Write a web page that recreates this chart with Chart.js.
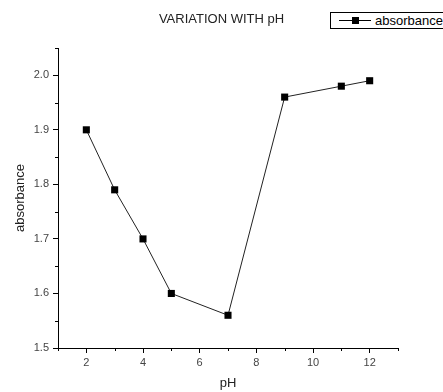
<!DOCTYPE html>
<html>
<head>
<meta charset="utf-8">
<script src="https://cdn.jsdelivr.net/npm/chart.js@4/dist/chart.umd.min.js"></script>
<style>
  body { margin: 0; background: #fff; }
  #wrap { position: relative; width: 443px; height: 392px; overflow: hidden; }
  #legend {
    position: absolute; left: 330px; top: 12px; width: 130px; height: 17px;
    border: 1px solid #000; background: #fff; box-sizing: border-box;
    font: 13px "Liberation Sans", Arial, sans-serif; color: #000;
    line-height: 15px; white-space: nowrap;
  }
  #legend canvas { vertical-align: middle; margin: -2px 4px 0 8px; }
</style>
</head>
<body>
<div id="wrap">
  <canvas id="myChart" width="443" height="392"></canvas>
  <div id="legend"><canvas id="legendSample" width="32" height="9"></canvas>absorbance</div>
</div>
<script>
// data
var phValues = [2, 3, 4, 5, 7, 9, 11, 12];
var absorbance = [1.90, 1.79, 1.70, 1.60, 1.56, 1.96, 1.98, 1.99];
var xTicks = [2, 4, 6, 8, 10, 12];
var yTicks = [1.5, 1.6, 1.7, 1.8, 1.9, 2.0];
var xMinor = [1, 3, 5, 7, 9, 11, 13];
var yMinor = [1.55, 1.65, 1.75, 1.85, 1.95, 2.05];

var points = [];
for (var i = 0; i < phValues.length; i++) {
  points.push({x: phValues[i], y: absorbance[i]});
}

// short minor ticks, drawn outside the axes
var minorTicks = {
  id: 'minorTicks',
  afterDraw: function(chart) {
    var ctx = chart.ctx;
    var xs = chart.scales.x, ys = chart.scales.y;
    ctx.save();
    ctx.strokeStyle = '#000';
    ctx.lineWidth = 1;
    ctx.beginPath();
    xMinor.forEach(function(v) {
      var px = Math.round(xs.getPixelForValue(v)) + 0.5;
      ctx.moveTo(px, xs.top);
      ctx.lineTo(px, xs.top + 3);
    });
    yMinor.forEach(function(v) {
      var py = Math.round(ys.getPixelForValue(v)) + 0.5;
      ctx.moveTo(ys.right, py);
      ctx.lineTo(ys.right - 3, py);
    });
    ctx.stroke();
    ctx.restore();
  }
};

var font = "'Liberation Sans', Arial, sans-serif";
var ctx = document.getElementById('myChart').getContext('2d');
var myChart = new Chart(ctx, {
  type: 'scatter',
  data: {
    datasets: [{
      label: 'absorbance',
      data: points,
      showLine: true,
      borderColor: '#222',
      borderWidth: 1,
      pointStyle: 'rect',
      pointRadius: 5,
      pointBackgroundColor: '#000',
      pointBorderColor: '#000',
      pointBorderWidth: 0
    }]
  },
  options: {
    responsive: false,
    animation: false,
    layout: { padding: 0 },
    plugins: {
      legend: { display: false },
      tooltip: { enabled: false },
      title: {
        display: true,
        text: 'VARIATION WITH pH',
        color: '#222',
        font: { family: font, size: 13, weight: 'normal' },
        padding: { top: 12, bottom: 20.4 }
      }
    },
    scales: {
      x: {
        type: 'linear',
        min: 1,
        max: 13,
        afterBuildTicks: function(scale) {
          scale.ticks = xTicks.map(function(v) { return {value: v}; });
        },
        afterFit: function(scale) { scale.height = 44; },
        grid: { drawOnChartArea: false, drawTicks: true, tickLength: 5, tickColor: '#000' },
        border: { display: true, color: '#000', width: 1 },
        ticks: { color: '#444', font: { family: font, size: 11 }, padding: 3, maxRotation: 0 },
        title: {
          display: true, text: 'pH', color: '#222',
          font: { family: font, size: 13 }, padding: { top: 0, bottom: 1 }
        }
      },
      y: {
        type: 'linear',
        min: 1.5,
        max: 2.05,
        afterBuildTicks: function(scale) {
          scale.ticks = yTicks.map(function(v) { return {value: v}; });
        },
        afterFit: function(scale) { scale.width = 58; },
        grid: { drawOnChartArea: false, drawTicks: true, tickLength: 5, tickColor: '#000' },
        border: { display: true, color: '#000', width: 1 },
        ticks: {
          color: '#444', font: { family: font, size: 11 }, padding: 4,
          callback: function(v) { return v.toFixed(1); }
        },
        title: {
          display: true, text: 'absorbance', color: '#222',
          font: { family: font, size: 13 }, padding: { top: 13, bottom: 0 }
        }
      },
      // empty right axis, only to keep the plot area off the right edge
      yRight: {
        type: 'linear',
        position: 'right',
        min: 1.5,
        max: 2.05,
        afterFit: function(scale) { scale.width = 45; },
        grid: { display: false },
        border: { display: false },
        ticks: { display: false }
      }
    }
  },
  plugins: [minorTicks]
});

// legend sample: line with a square marker
var lc = document.getElementById('legendSample').getContext('2d');
lc.strokeStyle = '#000';
lc.lineWidth = 1;
lc.beginPath();
lc.moveTo(0, 4.5);
lc.lineTo(32, 4.5);
lc.stroke();
lc.fillStyle = '#000';
lc.fillRect(13, 1, 7, 7);
</script>
</body>
</html>
